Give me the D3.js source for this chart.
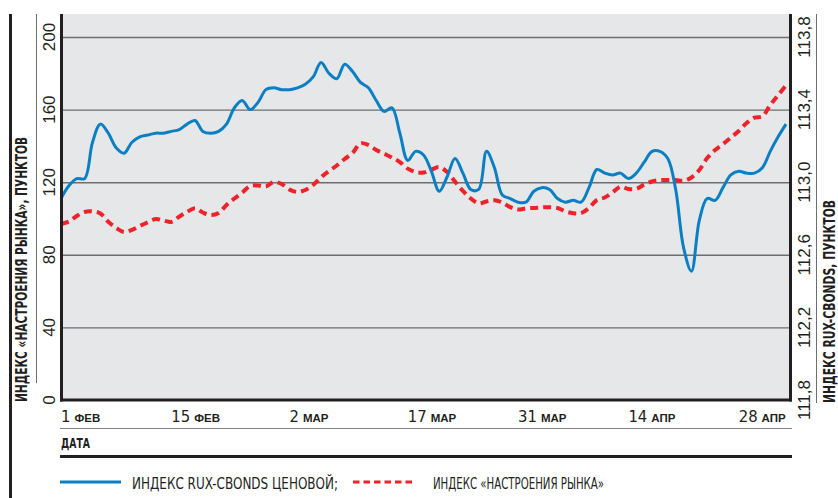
<!DOCTYPE html>
<html><head><meta charset="utf-8">
<script src="https://cdn.jsdelivr.net/npm/d3@7"></script>
<style>body{margin:0;background:#fff} svg{display:block}</style>
</head><body>
<svg id="c" width="838" height="498"></svg>
<script>
// ---- data ----
const startDate = "2009-02-01";
const endDate = "2009-05-04";
const leftTickValues = [0, 40, 80, 120, 160, 200];
const leftTickLabels = ["0", "40", "80", "120", "160", "200"];
const rightTickValues = [111.8, 112.2, 112.6, 113.0, 113.4, 113.8];
const rightTickLabels = ["111,8", "112,2", "112,6", "113,0", "113,4", "113,8"];
const xTickDates = ["2009-02-01","2009-02-15","2009-03-02","2009-03-17","2009-03-31","2009-04-14","2009-04-28"];
const xTickDays = ["1","15","2","17","31","14","28"];
const xTickMonths = ["ФЕВ","ФЕВ","МАР","МАР","МАР","АПР","АПР"];
// RUX-Cbonds price index (right axis), daily from 1 Feb
const ruxValues = [
112.91,112.98,113.02,113.02,113.22,113.32,113.27,113.19,113.16,113.22,
113.25,113.26,113.27,113.27,113.28,113.29,113.32,113.34,113.28,113.27,
113.28,113.32,113.41,113.45,113.40,113.44,113.51,113.52,113.51,113.51,
113.52,113.54,113.58,113.66,113.60,113.57,113.65,113.61,113.55,113.52,
113.45,113.39,113.41,113.27,113.12,113.17,113.15,113.06,112.95,113.03,
113.13,113.05,112.96,112.96,113.17,113.08,112.93,112.91,112.89,112.89,
112.95,112.97,112.96,112.91,112.89,112.90,112.89,112.97,113.07,113.05,
113.04,113.05,113.02,113.05,113.11,113.17,113.17,113.13,112.96,112.64,
112.51,112.79,112.91,112.90,112.97,113.04,113.06,113.05,113.05,113.08,
113.17,113.25,113.32];
// Market sentiment index (left axis), daily from 1 Feb
const moodValues = [
97.0,98.3,101.4,103.6,103.9,102.8,98.2,94.8,92.6,93.7,
95.9,97.9,99.7,98.9,98.1,101.0,103.6,105.6,103.3,101.9,
103.0,107.4,111.0,114.3,117.9,118.2,117.6,120.1,119.0,115.9,
114.6,115.7,118.5,122.7,126.2,129.2,132.8,136.1,141.4,140.5,
137.7,135.7,133.6,131.1,127.5,125.6,125.3,126.9,128.3,125.6,
120.4,115.2,111.0,108.4,109.4,110.1,108.8,106.3,104.9,105.6,
105.8,106.1,106.2,105.8,103.9,102.9,103.0,105.8,110.2,111.6,
114.4,117.5,116.3,116.3,118.7,120.4,121.2,121.2,121.2,120.8,
122.6,126.7,133.3,137.7,141.0,144.6,148.2,152.6,155.6,156.3,
162.5,168.0,173.3];
const legendLabels = ["ИНДЕКС RUX-CBONDS ЦЕНОВОЙ;", "ИНДЕКС «НАСТРОЕНИЯ РЫНКА»"];
const leftTitle = "ИНДЕКС «НАСТРОЕНИЯ РЫНКА», ПУНКТОВ";
const rightTitle = "ИНДЕКС RUX-CBONDS, ПУНКТОВ";
const xTitle = "ДАТА";

// ---- drawing ----
const parse = d3.timeParse("%Y-%m-%d");
const svg = d3.select("#c");
const INK = "#231f20";
const BLUE = "#0b7fc3";
const RED = "#ee2229";
const NARROW = "'Liberation Sans Narrow','DejaVu Sans Condensed','Liberation Sans',sans-serif";
const SANS = "'Liberation Sans',Arial,sans-serif";

const plot = {left: 61, right: 790, top: 14, bottom: 400};
const x = d3.scaleTime().domain([parse(startDate), parse(endDate)]).range([61, 786]);
const yL = d3.scaleLinear().domain([0, 200]).range([400, 37]);
const yR = d3.scaleLinear().domain([111.8, 113.8]).range([400, 37]);

svg.append("rect").attr("width", 838).attr("height", 498).attr("fill", "#fff");
svg.append("rect").attr("x", plot.left).attr("y", plot.top)
  .attr("width", plot.right - plot.left).attr("height", plot.bottom - plot.top)
  .attr("fill", "#e6e7e9");

// gridlines via axis
const grid = svg.append("g").attr("transform", `translate(${plot.left},0)`)
  .call(d3.axisLeft(yL).tickValues(leftTickValues.slice(1)).tickSize(-(plot.right - plot.left)).tickFormat(""));
grid.select(".domain").remove();
grid.selectAll(".tick line").attr("stroke", "#6d6e70").attr("stroke-width", 1.4);

// lines
const d0 = parse(startDate);
const dates = ruxValues.map((_, i) => d3.timeDay.offset(d0, i));
const ruxLine = d3.line().x((d, i) => x(dates[i])).y(d => yR(d)).curve(d3.curveCatmullRom.alpha(0.5));
const moodLine = d3.line().x((d, i) => x(dates[i])).y(d => yL(d)).curve(d3.curveCatmullRom.alpha(0.5));

svg.append("path").attr("d", moodLine(moodValues)).attr("fill", "none")
  .attr("stroke", RED).attr("stroke-width", 4).attr("stroke-dasharray", "8,5");
svg.append("path").attr("d", ruxLine(ruxValues)).attr("fill", "none")
  .attr("stroke", BLUE).attr("stroke-width", 3).attr("stroke-linejoin", "round");

// frame
const frame = svg.append("g").attr("stroke", INK).attr("stroke-width", 3);
frame.append("line").attr("x1", 61.5).attr("x2", 61.5).attr("y1", plot.top).attr("y2", 401.5);
frame.append("line").attr("x1", 790.5).attr("x2", 790.5).attr("y1", plot.top).attr("y2", 401.5);
frame.append("line").attr("x1", 60).attr("x2", 792).attr("y1", 400).attr("y2", 400);

// outer decorative lines
svg.append("line").attr("x1", 10.5).attr("x2", 10.5).attr("y1", 14).attr("y2", 498).attr("stroke", INK).attr("stroke-width", 3);
svg.append("line").attr("x1", 36.5).attr("x2", 36.5).attr("y1", 14).attr("y2", 383).attr("stroke", "#6d6e70").attr("stroke-width", 1);
svg.append("line").attr("x1", 816.5).attr("x2", 816.5).attr("y1", 14).attr("y2", 403).attr("stroke", "#6d6e70").attr("stroke-width", 1);

// left tick labels
svg.append("g").selectAll("text").data(leftTickValues).join("text")
  .attr("transform", d => `translate(55,${yL(d)}) rotate(-90)`)
  .attr("text-anchor", "middle").attr("font-family", SANS).attr("font-size", 17).attr("fill", INK)
  .text((d, i) => leftTickLabels[i]);
// right tick labels
svg.append("g").selectAll("text").data(rightTickValues).join("text")
  .attr("transform", d => `translate(810,${yR(d)}) rotate(-90)`)
  .attr("text-anchor", "middle").attr("font-family", SANS).attr("font-size", 17).attr("fill", INK)
  .text((d, i) => rightTickLabels[i]);

// axis titles
svg.append("text").attr("transform", "translate(27,402) rotate(-90)")
  .attr("font-family", NARROW).attr("font-weight", "bold").attr("font-size", 15.5).attr("fill", INK)
  .attr("textLength", 265).attr("lengthAdjust", "spacingAndGlyphs").text(leftTitle);
svg.append("text").attr("transform", "translate(835,403) rotate(-90)")
  .attr("font-family", NARROW).attr("font-weight", "bold").attr("font-size", 15).attr("fill", INK)
  .attr("textLength", 203).attr("lengthAdjust", "spacingAndGlyphs").text(rightTitle);

// x tick labels
const xl = svg.append("g").selectAll("text").data(xTickDates).join("text")
  .attr("x", d => x(parse(d))).attr("y", 421.5)
  .attr("fill", INK);
xl.append("tspan").attr("font-family", NARROW).attr("font-size", 16.5).text((d, i) => xTickDays[i]);
xl.append("tspan").attr("dx", 4).attr("font-family", SANS).attr("font-weight", "bold").attr("font-size", 11.5)
  .text((d, i) => xTickMonths[i]);

// under-axis lines & title
svg.append("line").attr("x1", 60).attr("x2", 792).attr("y1", 428.5).attr("y2", 428.5).attr("stroke", "#808285").attr("stroke-width", 1);
svg.append("text").attr("x", 61).attr("y", 448).attr("font-family", NARROW).attr("font-weight", "bold")
  .attr("font-size", 14).attr("fill", INK).attr("textLength", 29).attr("lengthAdjust", "spacingAndGlyphs").text(xTitle);
svg.append("line").attr("x1", 60).attr("x2", 792).attr("y1", 456.5).attr("y2", 456.5).attr("stroke", INK).attr("stroke-width", 3);

// legend
svg.append("line").attr("x1", 60).attr("x2", 121).attr("y1", 482).attr("y2", 482).attr("stroke", BLUE).attr("stroke-width", 3);
svg.append("text").attr("x", 132).attr("y", 489).attr("font-family", NARROW).attr("font-size", 15).attr("fill", INK)
  .attr("textLength", 206).attr("lengthAdjust", "spacingAndGlyphs").text(legendLabels[0]);
svg.append("line").attr("x1", 353).attr("x2", 413).attr("y1", 482).attr("y2", 482).attr("stroke", RED).attr("stroke-width", 3).attr("stroke-dasharray", "6.5,4");
svg.append("text").attr("x", 433).attr("y", 489).attr("font-family", NARROW).attr("font-size", 15).attr("fill", INK)
  .attr("textLength", 171).attr("lengthAdjust", "spacingAndGlyphs").text(legendLabels[1]);
</script>
</body></html>
